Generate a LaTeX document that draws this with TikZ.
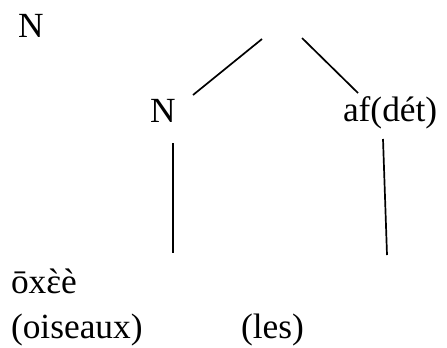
\documentclass[tikz,border=0pt]{standalone}
\usepackage{fontspec}
\setmainfont{Liberation Serif}
\newcommand\epsgrave{\setbox0\hbox{ɛ}\rlap{ɛ}\hbox to\wd0{\hss\char"02CB\hss}}
\begin{document}
\begin{tikzpicture}[x=1bp,y=-1bp,
  lbl/.style={anchor=base west,inner sep=0pt,outer sep=0pt,font=\fontsize{35.5}{42}\selectfont},
  edge/.style={line width=1.7pt}]
\useasboundingbox (0,0) rectangle (447,347);
\node[lbl] (ntop) at (18,37) {N};
\node[lbl] (nmid) at (150,122) {N};
\node[lbl] (af) at (343,121) {af(dét)};
\node[lbl] (oxee) at (11,293) {ōx\epsgrave è};
\node[lbl] (ois) at (11,338) {(oiseaux)};
\node[lbl] (les) at (241,338) {(les)};
\coordinate (d1a) at (193,95);
\coordinate (d1b) at (262,39);
\coordinate (d2a) at (302,38);
\coordinate (d2b) at (358,93);
\coordinate (v1a) at (173,143);
\coordinate (v1b) at (173,253);
\coordinate (v2a) at (383,139);
\coordinate (v2b) at (387,255);
\draw[edge] (d1a) -- (d1b);
\draw[edge] (d2a) -- (d2b);
\draw[edge] (v1a) -- (v1b);
\draw[edge] (v2a) -- (v2b);
\end{tikzpicture}
\end{document}
